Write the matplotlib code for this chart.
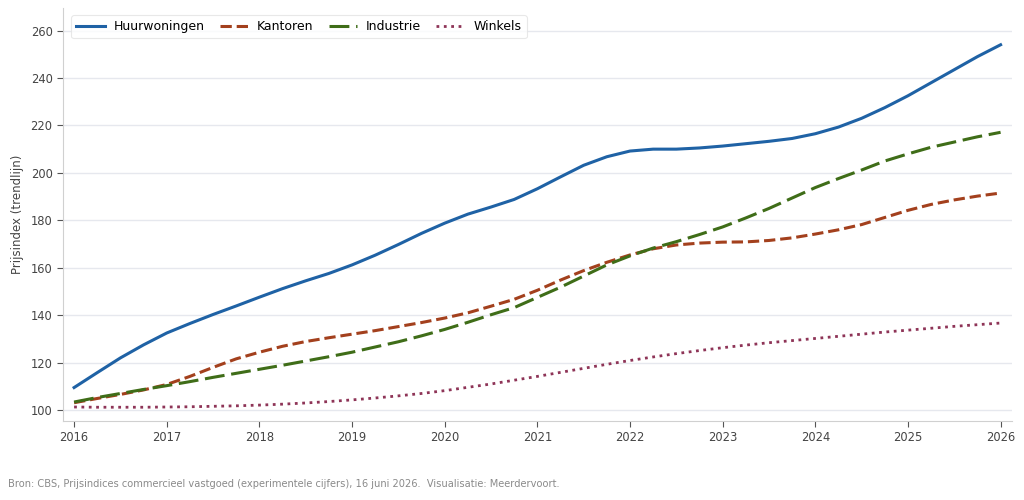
import pandas as pd
import numpy as np
import matplotlib.pyplot as plt

# kwartalen 2016K1 t/m 2026K1
kwartalen = pd.period_range("2016Q1", "2026Q1", freq="Q")

huurwoningen = [
    109.5, 115.8, 122.0, 127.5, 132.5, 136.5, 140.3, 143.9, 147.6, 151.2,
    154.5, 157.6, 161.2, 165.3, 169.8, 174.5, 178.8, 182.6, 185.6, 188.8,
    193.3, 198.3, 203.2, 206.8, 209.2, 210.0, 210.0, 210.5, 211.3, 212.3,
    213.3, 214.5, 216.5, 219.3, 223.0, 227.5, 232.5, 238.0, 243.5, 249.0,
    254.0,
]
kantoren = [
    103.1, 104.9, 106.6, 108.5, 110.8, 114.2, 118.0, 121.6, 124.4, 126.9,
    128.9, 130.5, 132.0, 133.5, 135.2, 136.9, 138.8, 141.0, 143.8, 146.7,
    150.5, 154.8, 158.8, 162.3, 165.4, 168.0, 169.6, 170.4, 170.8, 170.9,
    171.5, 172.6, 174.2, 176.0, 178.2, 181.2, 184.2, 186.7, 188.6, 190.2,
    191.5,
]
industrie = [
    103.4, 105.3, 107.0, 108.7, 110.3, 112.0, 113.8, 115.5, 117.2, 118.9,
    120.7, 122.5, 124.4, 126.6, 128.8, 131.3, 134.0, 137.0, 140.2, 143.2,
    147.5, 151.8, 156.5, 161.2, 165.0, 168.3, 171.0, 174.0, 177.2, 181.0,
    185.0, 189.4, 193.8, 197.6, 201.2, 205.0, 208.0, 210.8, 213.0, 215.2,
    217.1,
]
winkels = [
    101.3, 101.2, 101.2, 101.2, 101.3, 101.4, 101.6, 101.8, 102.1, 102.5,
    103.0, 103.6, 104.3, 105.1, 106.0, 107.0, 108.2, 109.6, 111.0, 112.6,
    114.2, 115.9, 117.6, 119.3, 120.9, 122.4, 123.8, 125.1, 126.3, 127.4,
    128.4, 129.3, 130.2, 131.1, 132.0, 132.9, 133.7, 134.5, 135.3, 136.0,
    136.7,
]

jaren = list(range(2016, 2027))
bron = ("Bron: CBS, Prijsindices commercieel vastgoed (experimentele cijfers), "
        "16 juni 2026.  Visualisatie: Meerdervoort.")

x = kwartalen.year + (kwartalen.quarter - 1) / 4

fig = plt.figure(figsize=(10.24, 5.0), dpi=100)
ax = fig.add_axes([0.0615, 0.158, 0.9265, 0.826])

ax.plot(x, huurwoningen, color="#1f62a5", lw=2.2, label="Huurwoningen")
ax.plot(x, kantoren, color="#a3401d", lw=2.2, ls="--", label="Kantoren")
ax.plot(x, industrie, color="#3f6d18", lw=2.2, ls=(0, (6.5, 2.2)), label="Industrie")
ax.plot(x, winkels, color="#8e3457", lw=2.0, ls=":", label="Winkels")

ax.set_xlim(2015.88, 2026.12)
ax.set_ylim(95.4, 269.5)
ax.set_xticks(jaren)
ax.set_yticks(range(100, 261, 20))

ax.grid(axis="y", color="#e6e8ee", lw=1)
ax.set_axisbelow(True)
for s in ["top", "right"]:
    ax.spines[s].set_visible(False)
for s in ["left", "bottom"]:
    ax.spines[s].set_color("#d0d0d0")
ax.tick_params(colors="#444444", labelsize=8.3, length=4, color="#555555")
ax.set_ylabel("Prijsindex (trendlijn)", color="#444444", fontsize=8.5, labelpad=5)

leg = ax.legend(loc="upper left", ncol=4, fontsize=9, frameon=True,
                bbox_to_anchor=(0.002, 0.998), handlelength=2.3,
                handletextpad=0.7, columnspacing=1.2)
leg.get_frame().set_edgecolor("#e3e3e3")
leg.get_frame().set_linewidth(0.8)

fig.text(0.008, 0.026, bron, color="#8a8a8a", fontsize=7.15)

fig.savefig("out.png", dpi=100)
